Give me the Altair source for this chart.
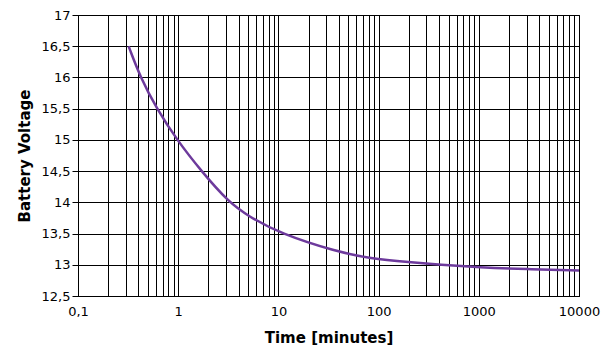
import altair as alt
import pandas as pd

time_min = [0.32, 0.42, 0.61, 0.97, 1.7, 3.2, 5, 10.4, 38, 82, 206, 410, 1000, 3000, 10000]
voltage = [16.5, 16.0, 15.5, 15.0, 14.5, 14.0, 13.78, 13.5, 13.21, 13.10, 13.04, 13.0, 12.96, 12.93, 12.91]

decades = [0.1, 1, 10, 100, 1000, 10000]
x_ticks = []
for d in decades[:-1]:
    for m in range(1, 10):
        x_ticks.append(round(d * m, 6))
x_ticks.append(10000)
y_ticks = [12.5, 13, 13.5, 14, 14.5, 15, 15.5, 16, 16.5, 17]

df = pd.DataFrame({"t": time_min, "v": voltage})

font = "DejaVu Sans"

chart = alt.Chart(df).mark_line(
    color="#6d3a9c", strokeWidth=2.5, interpolate="basis"
).encode(
    x=alt.X("t:Q", scale=alt.Scale(type="log", domain=[0.1, 10000], nice=False),
            axis=alt.Axis(values=x_ticks, title="Time [minutes]",
                          labelExpr="indexof([0.1,1,10,100,1000,10000], datum.value) >= 0 ? replace(format(datum.value, ''), '.', ',') : ''",
                          ticks=False, labelPadding=9, titlePadding=12, labelFlush=False,
                          labelOverlap=False,
                          grid=True, gridColor="black", gridOpacity=1, gridWidth=1)),
    y=alt.Y("v:Q", scale=alt.Scale(domain=[12.5, 17], nice=False, zero=False),
            axis=alt.Axis(values=y_ticks, title="Battery Voltage",
                          labelExpr="replace(format(datum.value, ''), '.', ',')",
                          tickSize=6, tickColor="black", labelPadding=2, titlePadding=9,
                          labelFlush=False, labelOverlap=False,
                          grid=True, gridColor="black", gridOpacity=1, gridWidth=1)),
).properties(
    width=501, height=281,
    autosize=alt.AutoSizeParams(type="none"),
    padding={"left": 70, "top": 7, "right": 25, "bottom": 50},
).configure_axis(
    labelFont=font, labelFontSize=13, labelColor="black",
    titleFont=font, titleFontSize=15, titleFontWeight="bold", titleColor="black",
    domainColor="black", domainWidth=1,
).configure_view(stroke="black", strokeWidth=1)

chart.save("out.html", embed_options={"renderer": "svg", "actions": False})
